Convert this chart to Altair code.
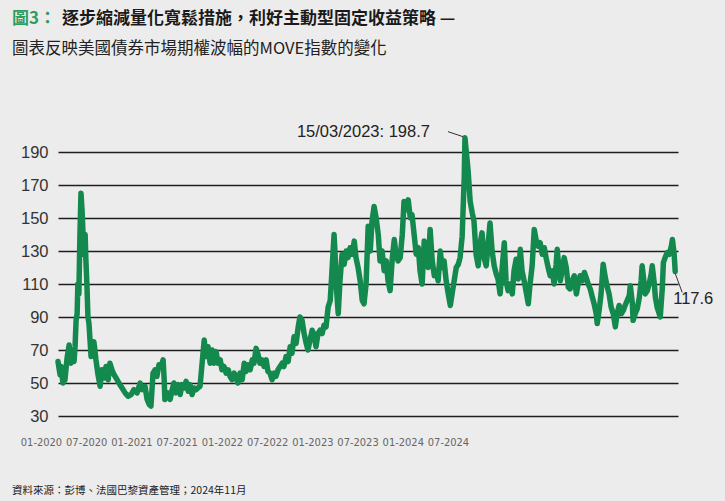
import altair as alt
import pandas as pd

# ---------------- data ----------------
# days since 2020-01-01 of each reading, and the MOVE index value
DAYS = [
    0, 6, 9, 14, 20, 26, 32, 37, 43, 46,
    49, 52, 55, 57, 60, 63, 66, 69, 72, 75,
    78, 80, 83, 86, 89, 92, 95, 98, 103, 106,
    109, 115, 121, 126, 132, 138, 144, 149, 155, 161,
    167, 175, 184, 193, 201, 210, 218, 227, 236, 241,
    250, 256, 262, 267, 273, 279, 284, 290, 296, 302,
    305, 307, 316, 322, 328, 333, 339, 345, 351, 356,
    362, 368, 374, 379, 385, 391, 397, 402, 408, 414,
    420, 425, 431, 437, 443, 448, 454, 460, 466, 471,
    477, 483, 489, 494, 500, 506, 512, 517, 523, 529,
    535, 540, 546, 552, 558, 563, 569, 575, 580, 586,
    592, 598, 603, 609, 615, 621, 626, 632, 638, 644,
    649, 655, 661, 667, 672, 678, 684, 690, 695, 701,
    707, 713, 718, 724, 730, 736, 741, 747, 753, 759,
    764, 770, 776, 782, 787, 793, 796, 799, 805, 810,
    816, 822, 828, 833, 839, 845, 851, 856, 862, 868,
    874, 879, 885, 891, 897, 902, 908, 914, 920, 925,
    931, 937, 943, 948, 954, 960, 966, 971, 977, 983,
    989, 994, 1000, 1006, 1012, 1017, 1023, 1029, 1035, 1040,
    1046, 1052, 1058, 1063, 1069, 1075, 1081, 1086, 1092, 1098,
    1104, 1109, 1115, 1121, 1127, 1132, 1138, 1144, 1150, 1155,
    1161, 1167, 1169, 1172, 1178, 1184, 1190, 1195, 1201, 1207,
    1213, 1218, 1224, 1230, 1236, 1241, 1247, 1253, 1259, 1264,
    1270, 1276, 1282, 1287, 1293, 1299, 1305, 1310, 1316, 1322,
    1328, 1333, 1339, 1345, 1351, 1356, 1362, 1368, 1374, 1379,
    1385, 1391, 1397, 1402, 1408, 1414, 1420, 1425, 1431, 1434,
    1437, 1443, 1448, 1454, 1460, 1466, 1471, 1477, 1483, 1489,
    1494, 1500, 1506, 1512, 1517, 1523, 1529, 1535, 1540, 1546,
    1549, 1555, 1560, 1566, 1572, 1578, 1583, 1589, 1595, 1601,
    1606, 1612, 1618, 1624, 1629, 1635, 1641, 1644, 1650, 1652,
    1658, 1664, 1670, 1675, 1678, 1684, 1687, 1693, 1698, 1704,
    1707, 1713, 1716, 1721, 1727, 1730, 1736, 1739, 1744, 1750,
    1756, 1762, 1765, 1770, 1773,
]
MOVE = [
    63, 55, 60, 50, 52, 65, 73, 62, 68, 63,
    72, 88, 92, 110, 104, 140, 165, 155, 140, 128,
    140, 125, 110, 90, 86, 76, 66, 72, 75, 70,
    64, 55, 48, 58, 53, 60, 52, 62, 58, 55,
    53, 50, 47, 44, 42, 43, 46, 44, 50, 46,
    48, 40, 37, 36, 56, 58, 54, 61, 60, 64,
    52, 40, 44, 40, 46, 50, 44, 49, 43, 49,
    47, 51, 45, 49, 43, 47, 46, 47, 48, 62,
    76, 66, 72, 62, 70, 62, 69, 62, 64, 58,
    60, 56, 58, 54, 52, 56, 53, 50, 56, 52,
    62, 57, 61, 58, 64, 62, 71, 67, 62, 64,
    60, 64, 57, 56, 52, 56, 54, 58, 60, 62,
    60, 66, 63, 72, 68, 78, 74, 84, 90, 88,
    80, 74, 70, 76, 82, 79, 72, 80, 82, 80,
    85, 84, 96, 100, 118, 140, 128, 110, 92, 112,
    128, 122, 130, 126, 132, 128, 136, 126, 120, 112,
    100, 98, 110, 145, 130, 148, 157, 150, 140, 124,
    130, 118, 124, 112, 106, 125, 137, 128, 124, 126,
    140, 160, 155, 161, 150, 152, 140, 128, 132, 118,
    110, 136, 128, 120, 143, 124, 115, 118, 112, 130,
    120, 124, 112, 104, 97, 104, 112, 120, 122, 126,
    139, 175, 198.7, 192, 179, 160, 153, 148, 128, 121,
    135, 141, 126, 121, 135, 147, 130, 121, 116, 113,
    104, 120, 135, 112, 106, 110, 104, 118, 125, 113,
    131, 118, 112, 105, 98, 110, 121, 143, 136, 133,
    135, 128, 132, 126, 120, 115, 118, 110, 122, 131,
    124, 112, 118, 126, 120, 108, 107, 112, 115, 104,
    110, 115, 112, 117, 114, 110, 107, 102, 98, 92,
    86, 95, 104, 122, 114, 108, 104, 96, 92, 84,
    92, 97, 92, 94, 97, 100, 103, 109, 98, 88,
    92, 95, 102, 112, 121, 110, 104, 106, 110, 116,
    121, 110, 102, 96, 92, 90, 108, 123, 126, 129,
    128, 133, 137, 128, 117.6,
]
assert len(DAYS) == len(MOVE)

TICK_LABELS = ["01-2020", "07-2020", "01-2021", "07-2021", "01-2022",
               "07-2022", "01-2023", "07-2023", "01-2024", "07-2024"]
Y_TICKS = [30, 50, 70, 90, 110, 130, 150, 170, 190]

TITLE_TAG = "圖3："
TITLE = "逐步縮減量化寬鬆措施，利好主動型固定收益策略 —"
SUBTITLE = "圖表反映美國債券市場期權波幅的MOVE指數的變化"
SOURCE = "資料來源：彭博、法國巴黎資產管理；2024年11月"

# ---------------- build ----------------
start = pd.Timestamp("2020-01-01")
df = pd.DataFrame({"date": start + pd.to_timedelta(DAYS, unit="D"), "move": MOVE})
peak = df.loc[[df["move"].idxmax()]].copy()
peak["label"] = peak["date"].dt.strftime("%d/%m/%Y") + ": " + peak["move"].map("{:.1f}".format)
last = df.iloc[[-1]].copy()
last["label"] = last["move"].map("{:.1f}".format)

W, H = 620, 264
GREEN = "#14894d"
TAG_GREEN = "#2f9d62"
BG = "#ececec"
LAT = "Liberation Sans"
NARROW = "'Liberation Sans Narrow', 'DejaVu Sans Condensed', 'Liberation Sans', sans-serif"
CJK = "Noto Sans CJK TC"

x_enc = alt.X(
    "date:T",
    scale=alt.Scale(domain=[alt.DateTime(year=2020, month=1, date=1),
                            alt.DateTime(year=2024, month=11, date=16)]),
    axis=None,
)
y_enc = alt.Y(
    "move:Q",
    scale=alt.Scale(domain=[30, 190], nice=False, zero=False),
    axis=alt.Axis(values=Y_TICKS, tickCount=20, title=None, grid=True,
                  gridColor="#1e1e1e", gridWidth=1.3, domain=False, ticks=False,
                  labelFont=LAT, labelFontSize=16.5, labelColor="#333333",
                  labelPadding=10, labelOverlap=False),
)

line = alt.Chart(df).mark_line(
    color=GREEN, strokeWidth=5.5, strokeJoin="round", strokeCap="round"
).encode(x=x_enc, y=y_enc)

peak_rule = alt.Chart(peak).mark_rule(
    color="#333333", strokeWidth=1, xOffset=-17, yOffset=-6, x2Offset=-2, y2Offset=-1
).encode(x="date:T", x2="date", y="move:Q", y2="move")
peak_text = alt.Chart(peak).mark_text(
    align="right", baseline="middle", dx=-35, dy=-6, font=LAT, fontSize=16.5, color="#222222"
).encode(x="date:T", y="move:Q", text="label:N")

last_rule = alt.Chart(last).mark_rule(
    color="#333333", strokeWidth=1, xOffset=0, yOffset=2, x2Offset=7, y2Offset=21
).encode(x="date:T", x2="date", y="move:Q", y2="move")
last_text = alt.Chart(last).mark_text(
    align="left", baseline="middle", dx=-2, dy=28, font=LAT, fontSize=16.5, color="#222222"
).encode(x="date:T", y="move:Q", text="label:N")


def text_line(txt, x, y, size, weight, color):
    return alt.Chart(pd.DataFrame({"t": [txt]})).mark_text(
        align="left", baseline="alphabetic", font=CJK, fontSize=size,
        fontWeight=weight, color=color
    ).encode(x=alt.value(x), y=alt.value(y), text="t:N")


tag = text_line(TITLE_TAG, -46, -128, 17, "bold", TAG_GREEN)
title = text_line(TITLE, 4, -128, 17, "bold", "#1a1a1a")
subtitle = text_line(SUBTITLE, -46, -98, 16.5, "normal", "#222222")
source = text_line(SOURCE, -46, 342, 10.5, "normal", "#222222")

inner = alt.layer(line, peak_rule, peak_text, last_rule, last_text,
                  tag, title, subtitle, source)

labels_df = pd.DataFrame({"i": list(range(len(TICK_LABELS))), "lab": TICK_LABELS})
expr = "[" + ",".join("'%s'" % l for l in TICK_LABELS) + "][datum.value]"
label_axis = alt.Chart(labels_df).mark_point(opacity=0).encode(
    x=alt.X("i:Q",
            scale=alt.Scale(domain=[0, 13.711], nice=False, zero=False),
            axis=alt.Axis(orient="bottom", values=list(range(len(TICK_LABELS))),
                          tickCount=20, labelExpr=expr, title=None, domain=False,
                          ticks=False, tickSize=0, grid=False, labelFont=NARROW,
                          labelFontSize=11, labelColor="#666666", labelPadding=20,
                          labelOffset=-17, labelFlush=False, labelOverlap=False))
)

chart = alt.layer(inner, label_axis).resolve_scale(x="independent").properties(
    width=W, height=H, background=BG,
    padding={"left": 58, "top": 152, "right": 47, "bottom": 85},
    autosize=alt.AutoSizeParams(type="none"),
).configure_view(stroke=None)

chart.save("out.html", embed_options={"renderer": "svg", "actions": False})
